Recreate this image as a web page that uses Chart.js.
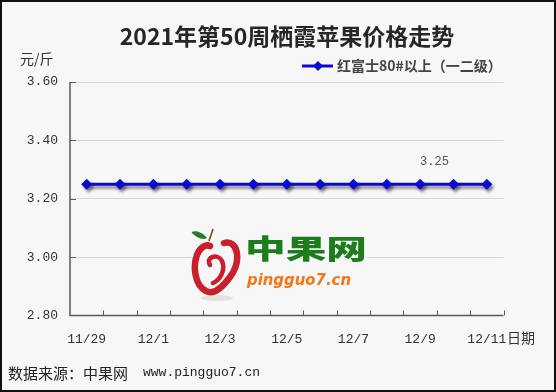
<!DOCTYPE html>
<html><head><meta charset="utf-8">
<script src="https://cdn.jsdelivr.net/npm/chart.js@4"></script>
<style>
html,body{margin:0;padding:0;background:#f7f7f7;}
#wrap{position:relative;width:556px;height:392px;overflow:hidden;}
#c{position:absolute;left:0;top:0;}
#frame{position:absolute;left:0;top:0;width:556px;height:392px;box-sizing:border-box;border:2px solid #111;pointer-events:none;}
#logo{position:absolute;left:180px;top:225px;}
</style></head>
<body>
<div id="wrap">
<canvas id="c" width="556" height="392"></canvas>
<svg id="logo" width="200" height="80" viewBox="0 0 200 80">
  <rect x="15" y="6" width="172" height="72" fill="#f7f7f7"/>
  <ellipse cx="37" cy="73" rx="16" ry="3" fill="#e2e2e2"/>
  <path d="M27 13 C 20 4, 10 6, 12 8 C 18 14, 24 15, 27 13 Z" fill="#2a7a2a"/>
  <path d="M29 16 L 33 4" stroke="#7a4a1a" stroke-width="1.6"/>
  <path d="M44 18 C 58 14, 62 36, 50 52 C 42 63, 33 70, 26 66 C 14 60, 13 40, 17 30 C 20 22, 26 19, 30 21" fill="none" stroke="#c8202c" stroke-width="6.5" stroke-linecap="round"/>
  <path d="M30 40 C 25 32, 38 28, 42 36 C 46 45, 40 55, 33 58" fill="none" stroke="#c8202c" stroke-width="4.5" stroke-linecap="round"/>
  <text x="65" y="34" font-family="Noto Sans CJK SC" font-weight="900" font-size="27" fill="#1d7d1d" textLength="122" lengthAdjust="spacingAndGlyphs">中果网</text>
  <text x="67" y="60" font-family="DejaVu Sans" font-style="italic" font-weight="bold" font-size="16" fill="#f07818" textLength="104" lengthAdjust="spacingAndGlyphs">pingguo7.cn</text>
</svg>
<div id="frame"></div>
</div>
<script>
const categories = ['11/29','11/30','12/1','12/2','12/3','12/4','12/5','12/6','12/7','12/8','12/9','12/10','12/11'];
const shownLabels = ['11/29','12/1','12/3','12/5','12/7','12/9','12/11'];
const seriesName = '红富士80#以上（一二级）';
const prices = [3.25,3.25,3.25,3.25,3.25,3.25,3.25,3.25,3.25,3.25,3.25,3.25,3.25];
const labeledIndex = 11;
const yMin = 2.8, yMax = 3.6, yStep = 0.2;
const titleText = '2021年第50周栖霞苹果价格走势';
const yAxisName = '元/斤';
const xAxisName = '日期';
const sourceText = '数据来源：中果网';
const sourceUrl = 'www.pingguo7.cn';
const lineColor = '#0a0ad2';

const extras = {
  id: 'extras',
  beforeDraw(chart) {
    const ctx = chart.ctx;
    ctx.save();
    ctx.fillStyle = '#f7f7f7';
    ctx.fillRect(0, 0, chart.width, chart.height);
    ctx.restore();
  },
  beforeDatasetsDraw(chart) {
    const ctx = chart.ctx;
    ctx.save();
    ctx.shadowColor = 'rgba(0,0,0,0.45)';
    ctx.shadowOffsetX = 2;
    ctx.shadowOffsetY = 3;
    ctx.shadowBlur = 3;
  },
  afterDatasetsDraw(chart) {
    chart.ctx.restore();
  },
  afterDraw(chart) {
    const ctx = chart.ctx;
    const xs = chart.scales.x, ys = chart.scales.y;
    ctx.save();
    ctx.strokeStyle = '#5a5a5a';
    ctx.lineWidth = 1.5;
    ctx.beginPath();
    ctx.moveTo(xs.left, ys.top); ctx.lineTo(xs.left, ys.bottom);
    ctx.lineTo(xs.right, ys.bottom);
    ctx.stroke();
    ctx.lineWidth = 1;
    const n = categories.length;
    const w = (xs.right - xs.left) / n;
    ctx.beginPath();
    for (let i = 1; i <= n; i++) {
      const x = Math.round(xs.left + i * w) + 0.5;
      ctx.moveTo(x, ys.bottom); ctx.lineTo(x, ys.bottom - 5);
    }
    for (let v = yMin + yStep; v <= yMax + 1e-9; v += yStep) {
      const y = Math.round(ys.getPixelForValue(v)) + 0.5;
      ctx.moveTo(xs.left, y); ctx.lineTo(xs.left + 6, y);
    }
    ctx.stroke();

    ctx.fillStyle = '#262626';
    ctx.font = 'bold 23px "Noto Sans CJK SC"';
    ctx.textAlign = 'center'; ctx.textBaseline = 'middle';
    ctx.fillText(titleText, 287, 36);

    ctx.fillStyle = '#333';
    ctx.font = '14px "Noto Sans CJK SC"';
    ctx.textAlign = 'left';
    ctx.fillText(yAxisName, 20, 59);
    ctx.fillText(xAxisName, 507, 338);

    const ly = 66;
    ctx.strokeStyle = lineColor; ctx.lineWidth = 3;
    ctx.beginPath(); ctx.moveTo(302, ly); ctx.lineTo(333, ly); ctx.stroke();
    ctx.fillStyle = lineColor;
    ctx.beginPath(); ctx.moveTo(318, ly - 5); ctx.lineTo(323, ly); ctx.lineTo(318, ly + 5); ctx.lineTo(313, ly); ctx.closePath(); ctx.fill();
    ctx.fillStyle = '#444';
    ctx.font = 'bold 14px "Noto Sans CJK SC"';
    ctx.fillText(seriesName, 337, ly);

    const meta = chart.getDatasetMeta(0);
    const pt = meta.data[labeledIndex];
    ctx.fillStyle = '#555';
    ctx.font = '12px "Liberation Mono"';
    ctx.textAlign = 'center';
    ctx.fillText(prices[labeledIndex].toFixed(2), pt.x - 19, pt.y - 22);

    ctx.textAlign = 'left';
    ctx.fillStyle = '#222';
    ctx.font = '15px "Noto Sans CJK SC"';
    ctx.fillText(sourceText, 8, 373);
    ctx.font = '13px "Liberation Mono"';
    ctx.fillText(sourceUrl, 143, 373);
    ctx.restore();
  }
};

new Chart(document.getElementById('c'), {
  type: 'line',
  data: {
    labels: categories,
    datasets: [{
      label: seriesName,
      data: prices,
      borderColor: lineColor,
      backgroundColor: lineColor,
      borderWidth: 3,
      pointStyle: 'rectRot',
      pointRadius: 5.5,
      pointHoverRadius: 5.5,
      pointBackgroundColor: lineColor,
      pointBorderWidth: 0,
      tension: 0
    }]
  },
  options: {
    responsive: false,
    animation: false,
    events: [],
    layout: { padding: { left: 0, right: 52.5, top: 82, bottom: 0 } },
    plugins: { legend: { display: false }, title: { display: false }, tooltip: { enabled: false } },
    scales: {
      x: {
        offset: true,
        grid: { display: false, drawTicks: false },
        border: { display: false },
        afterFit(s) { s.height = 76.5; },
        ticks: {
          autoSkip: false, maxRotation: 0, padding: 16,
          color: '#333', font: { family: 'Liberation Mono', size: 13 },
          callback(v, i) { const l = categories[i]; return shownLabels.includes(l) ? l : ''; }
        }
      },
      y: {
        min: yMin, max: yMax,
        grid: { color: '#d8d8d8', lineWidth: 1, drawTicks: false },
        border: { display: false },
        afterFit(s) { s.width = 70; },
        ticks: {
          stepSize: yStep, padding: 12,
          color: '#333', font: { family: 'Liberation Mono', size: 13 },
          callback(v) { return v.toFixed(2); }
        }
      }
    }
  },
  plugins: [extras]
});
</script>
</body></html>
